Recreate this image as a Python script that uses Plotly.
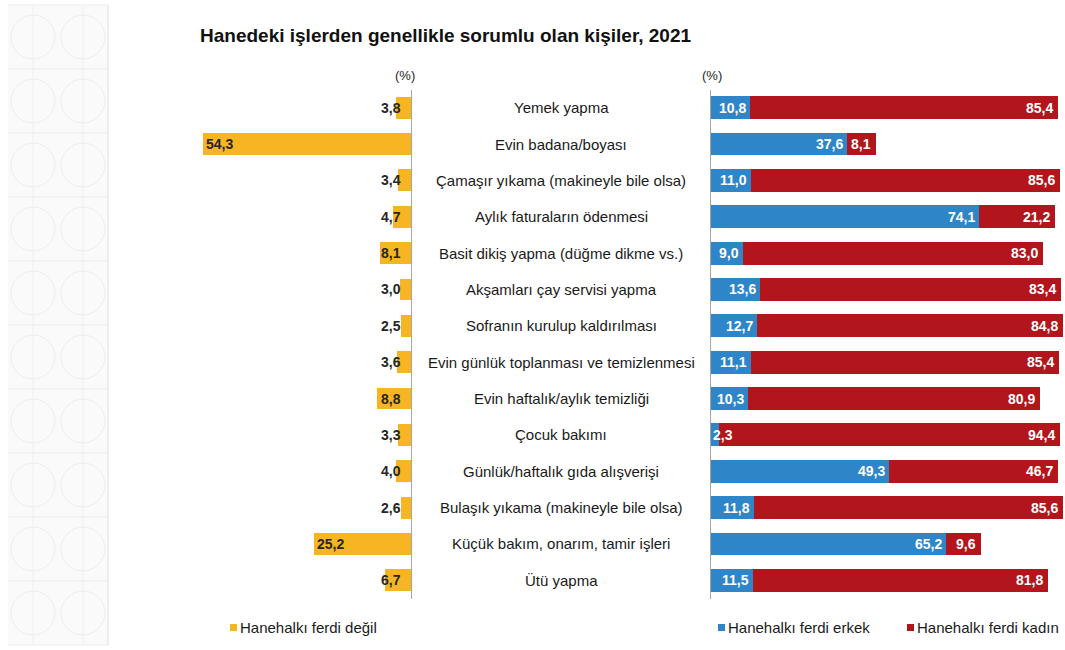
import plotly.graph_objects as go

categories = [
    "Yemek yapma",
    "Evin badana/boyası",
    "Çamaşır yıkama (makineyle bile olsa)",
    "Aylık faturaların ödenmesi",
    "Basit dikiş yapma (düğme dikme vs.)",
    "Akşamları çay servisi yapma",
    "Sofranın kurulup kaldırılması",
    "Evin günlük toplanması ve temizlenmesi",
    "Evin haftalık/aylık temizliği",
    "Çocuk bakımı",
    "Günlük/haftalık gıda alışverişi",
    "Bulaşık yıkama (makineyle bile olsa)",
    "Küçük bakım, onarım, tamir işleri",
    "Ütü yapma",
]
not_member = [3.8, 54.3, 3.4, 4.7, 8.1, 3.0, 2.5, 3.6, 8.8, 3.3, 4.0, 2.6, 25.2, 6.7]
male = [10.8, 37.6, 11.0, 74.1, 9.0, 13.6, 12.7, 11.1, 10.3, 2.3, 49.3, 11.8, 65.2, 11.5]
female = [85.4, 8.1, 85.6, 21.2, 83.0, 83.4, 84.8, 85.4, 80.9, 94.4, 46.7, 85.6, 9.6, 81.8]

legend_names = ["Hanehalkı ferdi değil", "Hanehalkı ferdi erkek", "Hanehalkı ferdi kadın"]
title = "Hanedeki işlerden genellikle sorumlu olan kişiler, 2021"

YELLOW = "#F7B524"
BLUE = "#2E86C8"
RED = "#B2161C"
AXIS = "#A6A6A6"
FONT = "Liberation Sans, Arial, sans-serif"

W, H = 1065, 650


def px(x):
    return x / W


def py(y):
    return 1 - y / H


def fmt(v):
    return f"{v:.1f}".replace(".", ",")


fig = go.Figure()

fig.add_trace(go.Bar(
    y=categories, x=[-v for v in not_member], orientation="h",
    marker=dict(color=YELLOW, line=dict(width=0)), width=0.6,
    xaxis="x", yaxis="y", name=legend_names[0], hoverinfo="skip",
))
fig.add_trace(go.Bar(
    y=categories, x=male, orientation="h",
    marker=dict(color=BLUE, line=dict(width=0)), width=0.63,
    xaxis="x2", yaxis="y2", name=legend_names[1], hoverinfo="skip",
))
fig.add_trace(go.Bar(
    y=categories, x=female, base=male, orientation="h",
    marker=dict(color=RED, line=dict(width=0)), width=0.63,
    xaxis="x2", yaxis="y2", name=legend_names[2], hoverinfo="skip",
))

annotations = []
label_font_dark = dict(family=FONT, size=14, color="#262626")
label_font_white = dict(family=FONT, size=14, color="#FFFFFF")

for cat, v, m, f in zip(categories, not_member, male, female):
    # left (yellow) labels
    if v >= 10:
        annotations.append(dict(x=-v, y=cat, xref="x", yref="y", xanchor="left",
                                xshift=1, text=f"<b>{fmt(v)}</b>", showarrow=False,
                                font=label_font_dark))
    else:
        annotations.append(dict(x=0, y=cat, xref="x", yref="y", xanchor="right",
                                xshift=-8, text=f"<b>{fmt(v)}</b>", showarrow=False,
                                font=label_font_dark))
    # blue labels
    if m >= 8:
        annotations.append(dict(x=m, y=cat, xref="x2", yref="y2", xanchor="right",
                                xshift=-2, text=f"<b>{fmt(m)}</b>", showarrow=False,
                                font=label_font_white))
    else:
        annotations.append(dict(x=0, y=cat, xref="x2", yref="y2", xanchor="left",
                                xshift=0, text=f"<b>{fmt(m)}</b>", showarrow=False,
                                font=label_font_white))
    # red labels
    annotations.append(dict(x=m + f, y=cat, xref="x2", yref="y2", xanchor="right",
                            xshift=-3, text=f"<b>{fmt(f)}</b>", showarrow=False,
                            font=label_font_white))
    # category labels
    annotations.append(dict(x=px(561), y=cat, xref="paper", yref="y", xanchor="center",
                            text=cat, showarrow=False,
                            font=dict(family=FONT, size=15, color="#1a1a1a")))

# title
annotations.append(dict(x=px(198), y=py(35), xref="paper", yref="paper", xanchor="left",
                        yanchor="middle", text=f"<b>{title}</b>", showarrow=False,
                        font=dict(family=FONT, size=19, color="#111111")))
# (%) labels
for xp in (405, 712):
    annotations.append(dict(x=px(xp), y=py(75), xref="paper", yref="paper", xanchor="center",
                            yanchor="middle", text="(%)", showarrow=False,
                            font=dict(family=FONT, size=13, color="#262626")))

# custom legend
legend_items = [(230, legend_names[0], YELLOW), (718, legend_names[1], BLUE), (907, legend_names[2], RED)]
shapes = []
for xp, name, col in legend_items:
    shapes.append(dict(type="rect", xref="paper", yref="paper",
                       x0=px(xp), x1=px(xp + 7), y0=py(631), y1=py(624),
                       fillcolor=col, line=dict(width=0)))
    annotations.append(dict(x=px(xp + 8), y=py(627), xref="paper", yref="paper",
                            xanchor="left", yanchor="middle", text=name, showarrow=False,
                            font=dict(family=FONT, size=15, color="#1a1a1a")))

# decorative side strip with a faint geometric pattern
shapes.append(dict(type="rect", xref="paper", yref="paper", x0=px(8), x1=px(108),
                   y0=py(645), y1=py(5), fillcolor="#FAFAFA", line=dict(width=0), layer="below"))
pat = "#EDEDED"
for gy in range(5, 646, 64):
    for gx in (8, 58):
        cx, cy = gx + 25, gy + 32
        shapes.append(dict(type="circle", xref="paper", yref="paper",
                           x0=px(cx - 22), x1=px(cx + 22), y0=py(cy + 22), y1=py(cy - 22),
                           line=dict(color=pat, width=1), layer="below"))
    shapes.append(dict(type="line", xref="paper", yref="paper", x0=px(8), x1=px(108),
                       y0=py(gy), y1=py(gy), line=dict(color=pat, width=1), layer="below"))
for gx in (33, 83):
    shapes.append(dict(type="line", xref="paper", yref="paper", x0=px(gx), x1=px(gx),
                       y0=py(645), y1=py(5), line=dict(color="#F0F0F0", width=1), layer="below"))
shapes.append(dict(type="line", xref="paper", yref="paper", x0=px(108), x1=px(108),
                   y0=py(645), y1=py(5), line=dict(color="#E0E0E0", width=1), layer="below"))

ydom = [py(598.5), py(89.5)]

fig.update_layout(
    width=W, height=H,
    margin=dict(l=0, r=0, t=0, b=0),
    paper_bgcolor="white", plot_bgcolor="rgba(0,0,0,0)",
    barmode="stack", showlegend=False,
    annotations=annotations, shapes=shapes,
    xaxis=dict(domain=[px(120), px(411)], range=[-(411 - 120) / 3.83, 0],
               showgrid=False, zeroline=False, showticklabels=False, ticks="", fixedrange=True),
    yaxis=dict(domain=ydom, anchor="x", side="right", type="category",
               categoryorder="array", categoryarray=categories, autorange="reversed",
               showgrid=False, zeroline=False, showticklabels=False, ticks="",
               showline=True, linecolor=AXIS, linewidth=1),
    xaxis2=dict(domain=[px(711), px(1063)], range=[0, (1063 - 711) / 3.61],
                showgrid=False, zeroline=False, showticklabels=False, ticks="", fixedrange=True),
    yaxis2=dict(domain=ydom, anchor="x2", side="left", type="category",
                categoryorder="array", categoryarray=categories, autorange="reversed",
                showgrid=False, zeroline=False, showticklabels=False, ticks="",
                showline=True, linecolor=AXIS, linewidth=1),
)

fig.write_html("out.html", config={"displayModeBar": False},
               post_script="document.body.style.margin='0';document.body.style.padding='0';")
